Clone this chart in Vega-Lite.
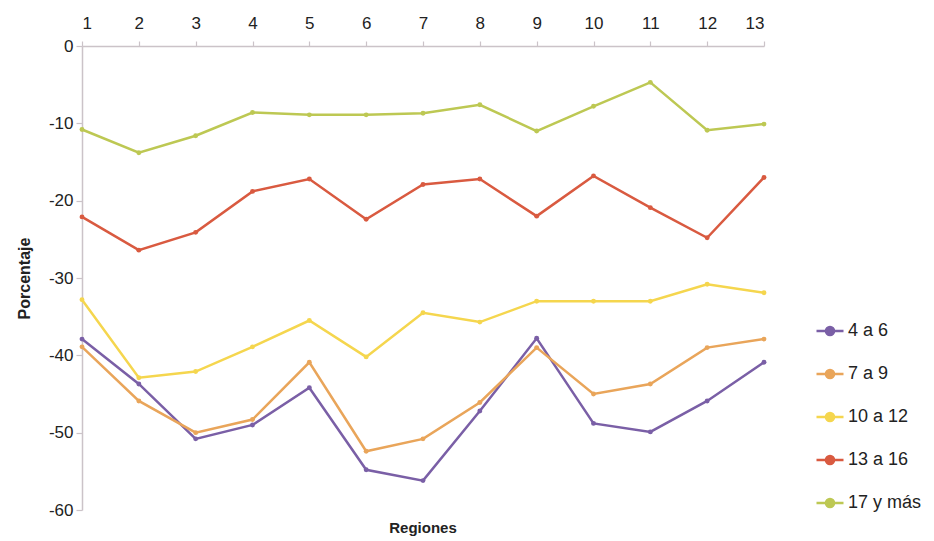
{
  "$schema": "https://vega.github.io/schema/vega-lite/v6.json",
  "width": 682,
  "height": 464,
  "autosize": {"type": "none"},
  "padding": {"left": 82, "top": 46, "right": 170, "bottom": 31},
  "background": "white",
  "config": {
    "font": "Liberation Sans",
    "view": {"stroke": null},
    "axis": {"grid": false, "domainColor": "#cbc3c8", "tickColor": "#cbc3c8", "labelColor": "#222", "labelFontSize": 17, "titleFontSize": 16, "titleColor": "#222", "titleFontWeight": "bold", "domainWidth": 1.5, "tickWidth": 1.2}
  },
  "title": {"text": "Regiones", "orient": "bottom", "fontSize": 15, "fontWeight": "bold", "color": "#222", "offset": 3, "anchor": "middle"},
  "data": {"values": [
    {"r": 1, "g": "4 a 6", "v": -37.9}, {"r": 2, "g": "4 a 6", "v": -43.7}, {"r": 3, "g": "4 a 6", "v": -50.8}, {"r": 4, "g": "4 a 6", "v": -49.0}, {"r": 5, "g": "4 a 6", "v": -44.2}, {"r": 6, "g": "4 a 6", "v": -54.8}, {"r": 7, "g": "4 a 6", "v": -56.2}, {"r": 8, "g": "4 a 6", "v": -47.2}, {"r": 9, "g": "4 a 6", "v": -37.8}, {"r": 10, "g": "4 a 6", "v": -48.8}, {"r": 11, "g": "4 a 6", "v": -49.9}, {"r": 12, "g": "4 a 6", "v": -45.9}, {"r": 13, "g": "4 a 6", "v": -40.9},
    {"r": 1, "g": "7 a 9", "v": -38.9}, {"r": 2, "g": "7 a 9", "v": -45.9}, {"r": 3, "g": "7 a 9", "v": -50.0}, {"r": 4, "g": "7 a 9", "v": -48.3}, {"r": 5, "g": "7 a 9", "v": -40.9}, {"r": 6, "g": "7 a 9", "v": -52.4}, {"r": 7, "g": "7 a 9", "v": -50.8}, {"r": 8, "g": "7 a 9", "v": -46.1}, {"r": 9, "g": "7 a 9", "v": -39.0}, {"r": 10, "g": "7 a 9", "v": -45.0}, {"r": 11, "g": "7 a 9", "v": -43.7}, {"r": 12, "g": "7 a 9", "v": -39.0}, {"r": 13, "g": "7 a 9", "v": -37.9},
    {"r": 1, "g": "10 a 12", "v": -32.8}, {"r": 2, "g": "10 a 12", "v": -42.9}, {"r": 3, "g": "10 a 12", "v": -42.1}, {"r": 4, "g": "10 a 12", "v": -38.9}, {"r": 5, "g": "10 a 12", "v": -35.5}, {"r": 6, "g": "10 a 12", "v": -40.2}, {"r": 7, "g": "10 a 12", "v": -34.5}, {"r": 8, "g": "10 a 12", "v": -35.7}, {"r": 9, "g": "10 a 12", "v": -33.0}, {"r": 10, "g": "10 a 12", "v": -33.0}, {"r": 11, "g": "10 a 12", "v": -33.0}, {"r": 12, "g": "10 a 12", "v": -30.8}, {"r": 13, "g": "10 a 12", "v": -31.9},
    {"r": 1, "g": "13 a 16", "v": -22.1}, {"r": 2, "g": "13 a 16", "v": -26.4}, {"r": 3, "g": "13 a 16", "v": -24.1}, {"r": 4, "g": "13 a 16", "v": -18.8}, {"r": 5, "g": "13 a 16", "v": -17.2}, {"r": 6, "g": "13 a 16", "v": -22.4}, {"r": 7, "g": "13 a 16", "v": -17.9}, {"r": 8, "g": "13 a 16", "v": -17.2}, {"r": 9, "g": "13 a 16", "v": -22.0}, {"r": 10, "g": "13 a 16", "v": -16.8}, {"r": 11, "g": "13 a 16", "v": -20.9}, {"r": 12, "g": "13 a 16", "v": -24.8}, {"r": 13, "g": "13 a 16", "v": -17.0},
    {"r": 1, "g": "17 y más", "v": -10.8}, {"r": 2, "g": "17 y más", "v": -13.8}, {"r": 3, "g": "17 y más", "v": -11.6}, {"r": 4, "g": "17 y más", "v": -8.6}, {"r": 5, "g": "17 y más", "v": -8.9}, {"r": 6, "g": "17 y más", "v": -8.9}, {"r": 7, "g": "17 y más", "v": -8.7}, {"r": 8, "g": "17 y más", "v": -7.6}, {"r": 9, "g": "17 y más", "v": -11.0}, {"r": 10, "g": "17 y más", "v": -7.8}, {"r": 11, "g": "17 y más", "v": -4.7}, {"r": 12, "g": "17 y más", "v": -10.9}, {"r": 13, "g": "17 y más", "v": -10.1}
  ]},
  "mark": {"type": "line", "strokeWidth": 2.5, "point": {"filled": true, "size": 24}},
  "encoding": {
    "x": {"field": "r", "type": "quantitative", "scale": {"domain": [1, 13], "nice": false}, "axis": {"orient": "top", "title": null, "values": [1,2,3,4,5,6,7,8,9,10,11,12,13], "format": "d", "tickSize": 5, "labelPadding": 9, "labelFontSize": 17}},
    "y": {"field": "v", "type": "quantitative", "scale": {"domain": [-60, 0], "nice": false}, "axis": {"title": "Porcentaje", "values": [0,-10,-20,-30,-40,-50,-60], "labelExpr": "'' + datum.value", "tickSize": 6, "labelPadding": 3, "titlePadding": 16, "labelFontSize": 17}},
    "color": {"field": "g", "type": "nominal",
      "scale": {"domain": ["4 a 6", "7 a 9", "10 a 12", "13 a 16", "17 y más"], "range": ["#7a5fa6", "#e9a55a", "#f5d64e", "#d95a40", "#bdc853"]},
      "legend": {"title": null, "orient": "none", "legendX": 733, "legendY": 270, "labelFontSize": 18, "labelColor": "#222", "rowPadding": 18, "symbolType": "M-1,0L-0.3,0M0.3,0L1,0M0.3,0A0.3,0.3 0 1,1 -0.3,0A0.3,0.3 0 1,1 0.3,0", "symbolSize": 729, "symbolStrokeWidth": 2.5, "labelOffset": 3}}
  }
}
